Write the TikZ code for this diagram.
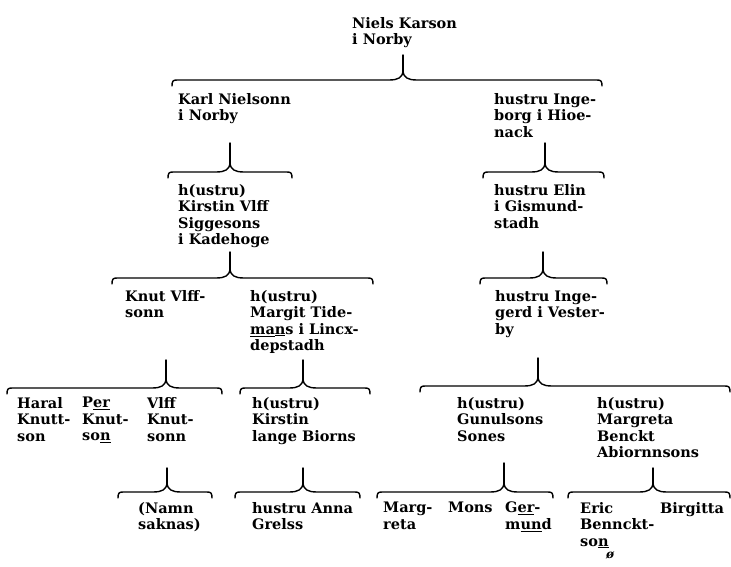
\documentclass[tikz,border=0pt]{standalone}
\usepackage{fontspec}
\setmainfont{DejaVu Serif}
\newcommand\famBrace[5]{%
  \draw[famline] (#1,#4+6) .. controls (#1,#4+1) and (#1+1,#4) .. (#1+5,#4)
    -- (#2-14,#4) .. controls (#2-4,#4) and (#2-1,#4-3) .. (#2,#4-8)
    .. controls (#2+1,#4-3) and (#2+4,#4) .. (#2+14,#4)
    -- (#3-5,#4) .. controls (#3-1,#4) and (#3,#4+1) .. (#3,#4+6);
  \draw[famline] (#2,#5) -- (#2,#4-8);}
\begin{document}
\begin{tikzpicture}[x=1pt,y=-1pt,
  person/.style={anchor=north west, inner sep=0pt, align=left,
    font=\bfseries\fontsize{14.5}{16.5}\selectfont},
  famline/.style={line width=1.4pt, line cap=round, line join=round}]
\useasboundingbox (0,0) rectangle (731,566);
% level 0
\node[person] (n0) at (352,17) {Niels Karson\\i Norby};
\famBrace{172}{403}{602}{80}{55}
% level 1
\node[person] (n1) at (178,93) {Karl Nielsonn\\i Norby};
\node[person] (n2) at (494,93) {hustru Inge-\\borg i Hioe-\\nack};
\famBrace{168}{230}{292}{172}{143}
\famBrace{483}{545}{604}{172}{143}
% level 2
\node[person] (n3) at (178,184) {h(ustru)\\Kirstin Vlff\\Siggesons\\i Kadehoge};
\node[person] (n4) at (494,184) {hustru Elin\\i Gismund-\\stadh};
\famBrace{112}{230}{373}{278}{252}
\famBrace{480}{543}{607}{278}{252}
% level 3
\node[person] (n5) at (125,290) {Knut Vlff-\\sonn};
\node[person] (n6) at (250,290) {h(ustru)\\Margit Tide-\\\underline{ma}\underline{n}s i Lincx-\\depstadh};
\node[person] (n7) at (495,290) {hustru Inge-\\gerd i Vester-\\by};
\famBrace{7}{166}{222}{388}{360}
\famBrace{240}{303}{370}{388}{360}
\famBrace{420}{538}{730}{386}{358}
% level 4
\node[person] (n8) at (17,397) {Haral\\Knutt-\\son};
\node[person] (n9) at (82,397) {P\underline{er}\\Knut-\\so\underline{n}};
\node[person] (n10) at (147,397) {Vlff\\Knut-\\sonn};
\node[person] (n11) at (252,397) {h(ustru)\\Kirstin\\lange Biorns};
\node[person] (n12) at (457,397) {h(ustru)\\Gunulsons\\Sones};
\node[person] (n13) at (597,397) {h(ustru)\\Margreta\\Benckt\\Abiornnsons};
\famBrace{118}{167}{212}{492}{468}
\famBrace{235}{303}{360}{492}{468}
\famBrace{377}{504}{553}{492}{463}
\famBrace{568}{653}{730}{492}{468}
% level 5
\node[person] (n14) at (138,502) {(Namn\\saknas)};
\node[person] (n15) at (252,502) {hustru Anna\\Grelss};
\node[person] (n16) at (383,502) {Marg-\\reta};
\node[person] (n17) at (448,502) {Mons};
\node[person] (n18) at (505,502) {G\underline{er}-\\m\underline{un}d};
\node[person] (n19) at (580,502) {Eric\\Bennckt-\\so\underline{n}};
\node[person] (n20) at (660,502) {Birgitta};
\node[person, font=\bfseries\fontsize{12}{14}\selectfont] (mark) at (606,551) {\itshape ø};
\end{tikzpicture}
\end{document}
